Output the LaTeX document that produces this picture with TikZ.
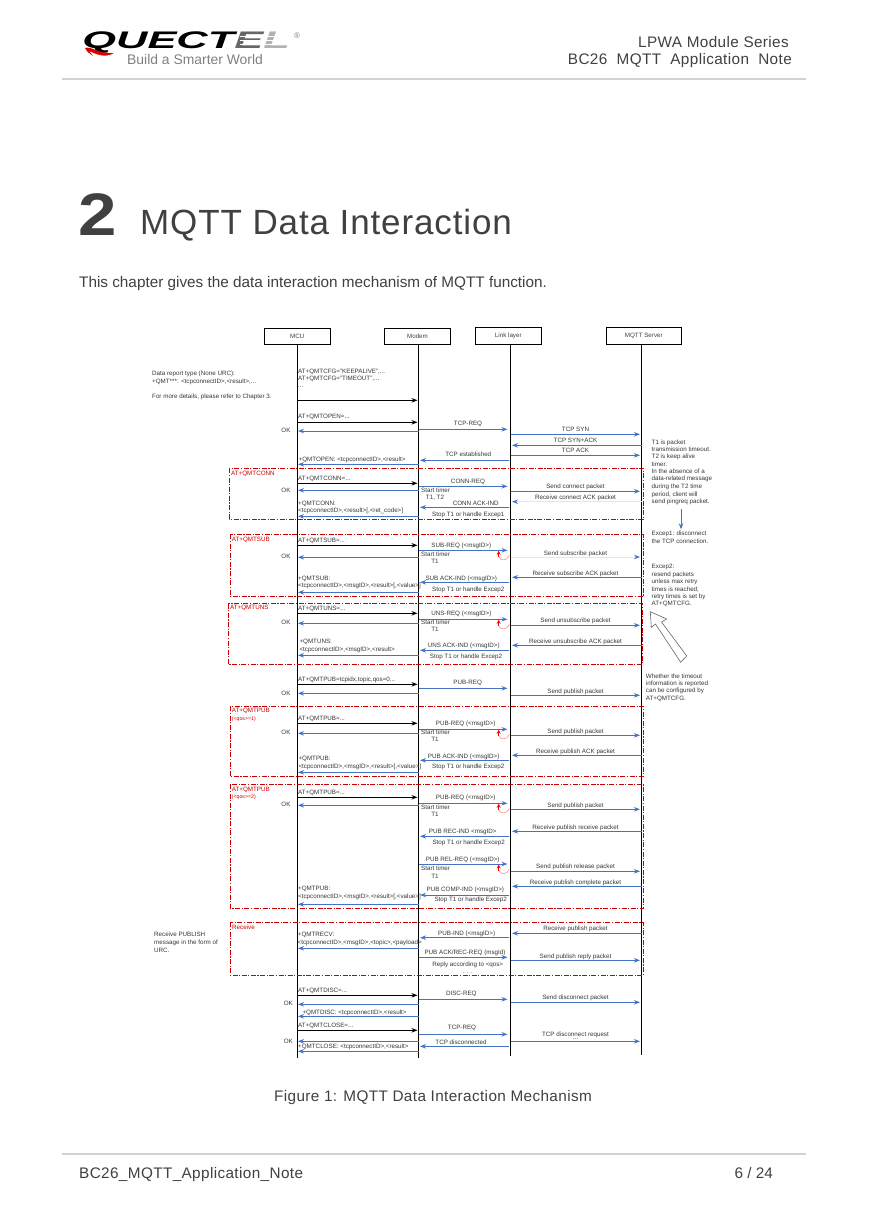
\documentclass[tikz,border=0pt]{standalone}
\usepackage{fontspec}
\setmainfont{Liberation Sans}
\newfontfamily\widefont[LetterSpace=2.5]{Liberation Sans}
\usetikzlibrary{arrows.meta}
\definecolor{msgblue}{HTML}{4472C4}
\definecolor{palemsg}{HTML}{DFE7F5}
\definecolor{boxred}{HTML}{C80000}
\definecolor{inkgrey}{HTML}{404040}
\tikzset{
  txt/.style={inner sep=0pt,text=inkgrey!85!black,font=\fontsize{6.25}{7}\selectfont,text height=4.4pt,text depth=1.2pt,yshift=-0.7pt},
  ltxt/.style={txt,anchor=west},
  redtxt/.style={ltxt,text=red!80!black},
  headbox/.style={draw,line width=0.9pt,inner sep=0pt,font=\fontsize{6.25}{7}\selectfont,text=inkgrey},
  page/.style={inner sep=0pt,text=inkgrey,anchor=base west},
  black msg/.style={line width=1pt,-{Stealth[length=6pt,width=4.5pt]}},
  blue msg/.style={msgblue,line width=1pt,-{Stealth[length=6pt,width=4.5pt]}},
  pale msg/.style={palemsg,line width=1pt,-{Stealth[length=6pt,width=4.5pt,color=msgblue]}},
  groupbox/.style={boxred,line width=1pt,dash pattern=on 5pt off 1.5pt on 1.2pt off 1.5pt},
  x=1pt,y=-1pt
}
\begin{document}
\begin{tikzpicture}
  \useasboundingbox (0,0) rectangle (869,1228);
  % page header
  \draw[gray!35,line width=2.5pt] (62,79) -- (806,79);
  \node[anchor=base west,inner sep=0pt,font=\fontsize{24}{24}\bfseries\itshape,xscale=1.81,transform shape] (logo) at (82,49) {QUECT\textcolor{inkgrey!80}{E}\textcolor{gray!60}{L}};
  \foreach \y in {36.5,40.5,44.5}{
    \draw[white,line width=0.8pt] (240,\y) -- (294,\y);
  }
  \fill[red!85!black] (85,48) .. controls (92,46) and (98,54) .. (114,53) .. controls (104,59) and (94,53) .. (89,51) -- (93,56) .. controls (90,54) and (87,52) .. (85,48);
  \node[inner sep=0pt,text=gray,font=\fontsize{8}{8}\selectfont] (regmark) at (297,35.5) {®};
  \node[page,text=gray,font=\fontsize{13.9}{14}\selectfont] (slogan) at (127,64.5) {Build a Smarter World};
  \node[inner sep=0pt,text=inkgrey,anchor=base east,font=\fontsize{15.3}{16}\widefont] (series) at (789,47.5) {LPWA Module Series};
  \node[inner sep=0pt,text=inkgrey,anchor=base east,font=\fontsize{15.3}{16}\widefont] (docname) at (792,64.5) {BC26\ \ MQTT\ \ Application\ \ Note};
  % chapter title
  \node[page,font=\fontsize{60}{60}\bfseries\selectfont,xscale=1.15,transform shape] (chapnum) at (78.5,235.5) {2};
  \node[page,font=\fontsize{35}{36}\widefont] (chaptitle) at (140,234.5) {MQTT Data Interaction};
  \node[page,font=\fontsize{15.3}{16}\selectfont] (intro) at (79,287) {This chapter gives the data interaction mechanism of MQTT function.};
  % lifelines
  \node[headbox,minimum width=66pt,minimum height=16pt] (mcubox) at (297.3,336.3) {MCU};
  \node[headbox,minimum width=66.4pt,minimum height=16pt] (modembox) at (417.5,336.3) {Modem};
  \node[headbox,minimum width=66pt,minimum height=17pt] (linkbox) at (508.3,335.8) {Link layer};
  \node[headbox,minimum width=75pt,minimum height=17pt] (serverbox) at (643.8,335.8) {MQTT Server};
  \coordinate (mcu) at (297.5,344.3);
  \coordinate (modem) at (418.5,344.3);
  \coordinate (link) at (510.5,344.3);
  \coordinate (server) at (641.5,344.3);
  \coordinate (mcuend) at (297.5,1058);
  \coordinate (modemend) at (418.5,1058);
  \coordinate (linkend) at (510.5,1055.7);
  \coordinate (serverend) at (641.5,1055);
  \foreach \n in {mcu,modem,link,server}{
    \draw[line width=0.9pt] (\n) -- (\n end);
  }
  % red groups
  \draw[groupbox] (229.3,468.3) rectangle (643.3,519.3);
  \draw[groupbox] (230.3,534.3) rectangle (643.3,596.3);
  \draw[groupbox] (228.3,603.7) rectangle (642.3,664.3);
  \draw[groupbox] (230.3,706.3) rectangle (643.3,776.3);
  \draw[groupbox] (230.3,784.3) rectangle (643.3,908.3);
  \draw[groupbox] (230.3,922.3) rectangle (643.3,975.3);
  % messages
  \foreach \y in {400.3,422.3,483.3,545.3,613.3,684.3,723.3,797.3,995.3,1030.3}{
    \draw[black msg,shorten >=1pt] (mcu |- 0,\y) -- (modem |- 0,\y);
  }
  \foreach \y in {431,464.3,490.3,516.3,557.3,592.3,623.3,655.3,693.3,733.3,772.3,805.3,904.3,948.3,1004.3,1016.3,1041.3,1051.3}{
    \draw[blue msg,shorten >=0.5pt] (modem |- 0,\y) -- (mcu |- 0,\y);
  }
  \foreach \y in {429.3,486.3,550.3,619.3,688.3,729.3,803.3,864,957.3,999.3,1034.3}{
    \draw[blue msg,shorten >=3pt] (modem |- 0,\y) -- (link |- 0,\y);
  }
  \foreach \y in {460.3,507.3,582.3,650.3,760.3,836.3,895,937.7,1046.3}{
    \draw[blue msg,shorten <=2pt,shorten >=1.5pt] (link |- 0,\y) -- (modem |- 0,\y);
  }
  \foreach \y in {434.3,455.3,491.3,625.3,695.3,735.3,809.3,871.3,960.3,1002.3,1041.3}{
    \draw[blue msg,shorten >=1.5pt] (link |- 0,\y) -- (server |- 0,\y);
  }
  \draw[pale msg,shorten >=1.5pt] (link |- 0,557) -- (server |- 0,557);
  \foreach \y in {445.3,577.3,645.3,755.3,831.3,886.3,933.3}{
    \draw[blue msg,shorten >=1.5pt] (server |- 0,\y) -- (link |- 0,\y);
  }
  \draw[pale msg,shorten >=1.5pt] (server |- 0,501.7) -- (link |- 0,501.7);
  % timer loops
  \foreach \y in {550.3,619.3,729.3,803.3,864}{
    \begin{scope}[shift={(498.7,\y)}]
      \draw[red!45,line width=0.6pt] (0,6) .. controls (1,11) and (9,11) .. (10.5,5);
      \draw[red,line width=0.8pt,-{Stealth[length=4pt,width=4pt]}] (0,6.5) -- (0,0.5);
    \end{scope}
  }
  % notes
  \draw[blue msg] (681,509.3) -- (681,529.3);
  \draw[gray!80!black,line width=0.6pt] (650.3,611.7) -- (666.7,619) -- (661.5,622) -- (686.7,656) -- (680.7,662.3) -- (655.5,624) -- (651.3,627.3) -- cycle;
  \node[ltxt] (leftnote) at (152,372.7) {Data report type (None URC):};
  \node[ltxt] (leftqmt) at (152,381.3) {+QMT***: <tcpconnectID>,<result>,...};
  \node[ltxt] (leftmore) at (152,396) {For more details, please refer to Chapter 3.};
  \node[ltxt] (recv1) at (154,934.3) {Receive PUBLISH};
  \node[ltxt] (recv2) at (154,941.7) {message in the form of};
  \node[ltxt] (recv3) at (154,949.7) {URC.};
  \foreach \t/\y [count=\i] in {T1 is packet/441.7,transmission timeout./449,T2 is keep alive/456,timer./464,In the absence of a/471,data-related message/478.6,during the T2 time/486,{period, client will}/494,send pingreq packet./501,Excep1: disconnect/532.7,the TCP connection./540.7,Excep2:/565.7,resend packets/574,unless max retry/581,times is reached;/588.7,retry times is set by/596,AT+QMTCFG./603}{
    \node[ltxt] (note\i) at (651.5,\y) {\t};
  }
  \foreach \t/\y [count=\i] in {Whether the timeout/675.7,information is reported/683,can be configured by/690,AT+QMTCFG./698}{
    \node[ltxt] (when\i) at (645.7,\y) {\t};
  }
  % OK replies and timers
  \foreach \x/\y [count=\i] in {286/430,286/489.7,286/555.7,286/621.7,286/692.7,286/731.7,286/803.7,288.3/1002.7,288.3/1040.7}{
    \node[txt] (ok\i) at (\x,\y) {OK};
  }
  \foreach \y [count=\i] in {490,553.7,621.7,731.7,806.7,867.7}{
    \node[ltxt] (timer\i) at (421,\y) {Start timer};
  }
  \foreach \y [count=\i] in {560.7,628.7,738.7,813.7,875.7}{
    \node[txt] (tone\i) at (435,\y) {T1};
  }
  \node[txt] (tonetwo) at (435,496.7) {T1, T2};
  % group names
  \node[redtxt] (gconn) at (231,472.7) {AT+QMTCONN};
  \node[redtxt] (gsub) at (231.7,538.7) {AT+QMTSUB};
  \node[redtxt] (guns) at (230,606.7) {AT+QMTUNS};
  \node[redtxt] (gpubone) at (231.7,710.3) {AT+QMTPUB};
  \node[redtxt,font=\fontsize{5.2}{6}\selectfont] (gqosone) at (231.7,717.7) {(<qos>=1)};
  \node[redtxt] (gpubtwo) at (231.7,788.7) {AT+QMTPUB};
  \node[redtxt,font=\fontsize{5.2}{6}\selectfont] (gqostwo) at (231.7,796) {(<qos>=2)};
  \node[redtxt] (grecv) at (232,926.7) {Receive};
  % MCU side texts
  \node[ltxt] (cfgone) at (298,370.7) {AT+QMTCFG="KEEPALIVE",...};
  \node[ltxt] (cfgtwo) at (298,378) {AT+QMTCFG="TIMEOUT",...};
  \node[ltxt] (cfgdots) at (298,385.5) {...};
  \node[ltxt] (open) at (298,415.7) {AT+QMTOPEN=...};
  \node[ltxt] (openurc) at (298.5,459) {+QMTOPEN: <tcpconnectID>,<result>};
  \node[ltxt] (conn) at (298,477.7) {AT+QMTCONN=...};
  \node[ltxt] (connurc) at (298,502.7) {+QMTCONN:};
  \node[ltxt] (connarg) at (298,509.7) {<tcpconnectID>,<result>[,<ret\_code>]};
  \node[ltxt] (sub) at (298,540) {AT+QMTSUB=...};
  \node[ltxt] (suburc) at (298,578) {+QMTSUB:};
  \node[ltxt] (subarg) at (298,585) {<tcpconnectID>,<msgID>,<result>[,<value>]};
  \node[ltxt] (uns) at (298,607.7) {AT+QMTUNS=...};
  \node[ltxt] (unsurc) at (299.3,640.7) {+QMTUNS:};
  \node[ltxt] (unsarg) at (299.3,649) {<tcpconnectID>,<msgID>,<result>};
  \node[ltxt] (pubzero) at (298,679) {AT+QMTPUB=tcpidx,topic,qos=0...};
  \node[ltxt] (pubone) at (298,717.7) {AT+QMTPUB=...};
  \node[ltxt] (puboneurc) at (298.3,758) {+QMTPUB:};
  \node[ltxt] (pubonearg) at (298.3,766) {<tcpconnectID>,<msgID>,<result>[,<value>]};
  \node[ltxt] (pubtwo) at (298,792) {AT+QMTPUB=...};
  \node[ltxt] (pubtwourc) at (298,887.7) {+QMTPUB:};
  \node[ltxt] (pubtwoarg) at (298,896) {<tcpconnectID>,<msgID>,<result>[,<value>]};
  \node[ltxt] (recvurc) at (297.7,933.7) {+QMTRECV:};
  \node[ltxt] (recvarg) at (297.5,942) {<tcpconnectID>,<msgID>,<topic>,<payload>};
  \node[ltxt] (disc) at (298,990) {AT+QMTDISC=...};
  \node[ltxt] (discurc) at (302.3,1012) {+QMTDISC: <tcpconnectID>,<result>};
  \node[ltxt] (close) at (298,1024.7) {AT+QMTCLOSE=...};
  \node[ltxt] (closeurc) at (298,1046) {+QMTCLOSE: <tcpconnectID>,<result>};
  % modem to link layer texts
  \foreach \t/\x/\y [count=\i] in {TCP-REQ/468/422.7,TCP established/468.3/453.7,CONN-REQ/468/480.7,CONN ACK-IND/475.7/502.7,Stop T1 or handle Excep1/468.3/513.7,SUB-REQ (<msgID>)/461.3/544.7,SUB ACK-IND (<msgID>)/461.3/577.7,Stop T1 or handle Excep2/468.3/588.7,UNS-REQ (<msgID>)/461.3/612.7,UNS ACK-IND (<msgID>)/463.7/644.7,Stop T1 or handle Excep2/466/655.7,PUB-REQ/467.7/682.3,PUB-REQ (<msgID>)/465.7/722.7,PUB ACK-IND (<msgID>)/463.7/755.7,Stop T1 or handle Excep2/468.3/766,PUB-REQ (<msgID>)/465.7/796.7,PUB REC-IND <msgID>/462.7/830.7,Stop T1 or handle Excep2/468.7/841.7,PUB REL-REQ (<msgID>)/462.7/858.7,PUB COMP-IND (<msgID>)/465.3/888.7,Stop T1 or handle Excep2/470.7/898.7,PUB-IND (<msgID>)/466.7/932.7,{PUB ACK/REC-REQ (msgId)}/465/951.7,Reply according to <qos>/467.7/963.7,DISC-REQ/461.3/992.7,TCP-REQ/462/1026.7,TCP disconnected/461/1041.7}{
    \node[txt] (mid\i) at (\x,\y) {\t};
  }
  \node[txt] (replydots) at (468,971.3) {. . .};
  % link layer to server texts
  \foreach \t/\y [count=\i] in {TCP SYN/428.7,TCP SYN+ACK/439.7,TCP ACK/449.7,Send connect packet/485.7,Receive connect ACK packet/496.7,Send subscribe packet/552.7,Receive subscribe ACK packet/572.7,Send unsubscribe packet/619.7,Receive unsubscribe ACK packet/640.7,Send publish packet/690.7,Send publish packet/730.7,Receive publish ACK packet/750.7,Send publish packet/804.7,Receive publish receive packet/826.7,Send publish release packet/865.7,Receive publish complete packet/881.7,Receive publish packet/928,Send publish reply packet/955.7,Send disconnect packet/996.7,TCP disconnect request/1033.7}{
    \node[txt] (srv\i) at (575.5,\y) {\t};
  }
  \node[txt,text height=1pt,text depth=0pt] (srvdots) at (575.5,1038) {...};
  % page footer
  \node[page,font=\fontsize{15.3}{16}\widefont] (caption) at (274,1101) {Figure 1: MQTT Data Interaction Mechanism};
  \draw[gray!35,line width=1.2pt] (62,1154) -- (806,1154);
  \node[page,font=\fontsize{15.3}{16}\widefont] (footname) at (79,1178) {BC26\_MQTT\_Application\_Note};
  \node[inner sep=0pt,text=inkgrey,anchor=base east,font=\fontsize{15.3}{16}\selectfont] (pageno) at (773,1178) {6 / 24};
\end{tikzpicture}
\end{document}
